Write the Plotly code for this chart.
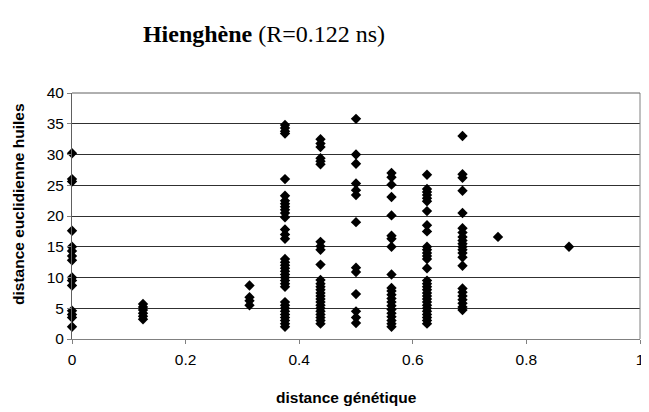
import plotly.graph_objects as go

x_vals = [0.0, 0.125, 0.3125, 0.375, 0.4375, 0.5, 0.5625, 0.625, 0.6875, 0.75, 0.875]
y_at_0 = [30.2, 26.0, 25.6, 17.6, 15.0, 14.3, 13.5, 12.8, 10.0, 9.5, 8.7, 4.6, 4.0, 3.5, 2.0]
y_at_0125 = [5.7, 5.2, 4.7, 4.2, 3.7, 3.2]
y_at_03125 = [8.7, 6.8, 6.2, 5.5]
y_at_0375 = [34.8, 34.3, 33.8, 33.4, 26.0, 23.3, 22.5, 22.0, 21.5, 21.0, 20.5, 19.8,
             17.8, 17.0, 16.3, 13.0, 12.5, 12.0, 11.5, 11.0, 10.5, 10.0, 9.5, 9.0, 8.5,
             6.0, 5.5, 5.0, 4.5, 4.0, 3.5, 3.0, 2.5, 2.0]
y_at_04375 = [32.5, 31.8, 31.2, 29.4, 28.9, 28.4, 15.8, 15.1, 14.5, 12.1, 9.6, 9.0, 8.5,
              8.0, 7.5, 7.0, 6.5, 6.0, 5.5, 5.0, 4.5, 4.0, 3.5, 3.0, 2.5]
y_at_05 = [35.8, 30.0, 28.5, 25.3, 24.2, 23.4, 19.0, 11.6, 10.9, 7.3, 4.5, 3.5, 2.6]
y_at_05625 = [27.0, 26.3, 25.1, 23.1, 20.1, 16.8, 16.3, 15.0, 10.5, 8.3, 7.8, 7.2, 6.6,
              6.0, 5.4, 4.8, 4.2, 3.6, 3.0, 2.5, 2.0]
y_at_0625 = [26.7, 24.4, 23.9, 23.4, 22.9, 22.4, 20.8, 18.5, 17.5, 15.0, 14.5, 14.0, 13.5,
             13.0, 11.5, 9.5, 9.0, 8.5, 8.0, 7.5, 7.0, 6.5, 6.0, 5.5, 5.0, 4.5, 4.0,
             3.5, 3.0, 2.5]
y_at_06875 = [33.0, 26.8, 26.2, 24.1, 20.5, 18.0, 17.3, 16.6, 16.0, 15.5, 15.0, 14.5,
              14.0, 13.3, 11.9, 8.2, 7.6, 7.0, 6.4, 5.8, 5.2, 4.7]
y_at_075 = [16.6]
y_at_0875 = [15.0]

groups = [y_at_0, y_at_0125, y_at_03125, y_at_0375, y_at_04375, y_at_05,
          y_at_05625, y_at_0625, y_at_06875, y_at_075, y_at_0875]

xs, ys = [], []
for xv, g in zip(x_vals, groups):
    xs += [xv] * len(g)
    ys += g

x_ticks = [0, 0.2, 0.4, 0.6, 0.8, 1]
x_tick_labels = ["0", "0.2", "0.4", "0.6", "0.8", "1"]
y_ticks = [0, 5, 10, 15, 20, 25, 30, 35, 40]

fig = go.Figure(go.Scatter(
    x=xs, y=ys, mode="markers",
    marker=dict(symbol="diamond", size=8, color="black"),
    cliponaxis=False,
))

# page body has an 8px default margin; compensate so the figure fits the window
W, H = 641, 404
fig.update_layout(
    width=W, height=H,
    margin=dict(l=64, r=9, t=85, b=73, autoexpand=False),
    paper_bgcolor="white", plot_bgcolor="white",
    showlegend=False,
    font=dict(family="Liberation Sans, Arial", size=15, color="black"),
    title=dict(
        text="<b>Hienghène</b> (R=0.122 ns)",
        font=dict(family="Liberation Serif, Times New Roman", size=24, color="black"),
        x=(256 - 64) / 568, xref="paper", xanchor="center",
        y=1 - 26 / H, yref="container", yanchor="middle",
        automargin=False,
    ),
)
fig.update_xaxes(
    range=[0, 1], tickvals=x_ticks, ticktext=x_tick_labels,
    showgrid=False, zeroline=False, automargin=False,
    showline=True, linecolor="#808080", linewidth=1, mirror=False,
    ticks="outside", ticklen=4, tickcolor="#808080",
    ticklabelstandoff=2,
    tickfont=dict(size=15.5),
)
fig.update_yaxes(
    range=[0, 40], tickvals=y_ticks,
    showgrid=True, gridcolor="#303030", gridwidth=1, zeroline=False, automargin=False,
    showline=True, linecolor="#606060", linewidth=1,
    ticks="outside", ticklen=4, tickcolor="#808080",
    tickfont=dict(size=15.5),
)
fig.add_annotation(
    text="<b>distance génétique</b>", xref="paper", yref="paper",
    x=(338 - 64) / 568, y=-(389 - 331) / 246, xanchor="center", yanchor="middle",
    showarrow=False, font=dict(size=15.5),
)
fig.add_annotation(
    text="<b>distance euclidienne huiles</b>", xref="paper", yref="paper",
    x=-(64 - 10) / 568, y=(331 - 196) / 246, xanchor="center", yanchor="middle",
    textangle=-90, showarrow=False, font=dict(size=15.5),
)
# right and top border of plot area
fig.add_shape(type="line", xref="paper", yref="paper", x0=1, x1=1, y0=0, y1=1,
              line=dict(color="#808080", width=1))
fig.add_shape(type="line", xref="paper", yref="paper", x0=0, x1=1, y0=1, y1=1,
              line=dict(color="#606060", width=1))

fig.write_html("out.html")
